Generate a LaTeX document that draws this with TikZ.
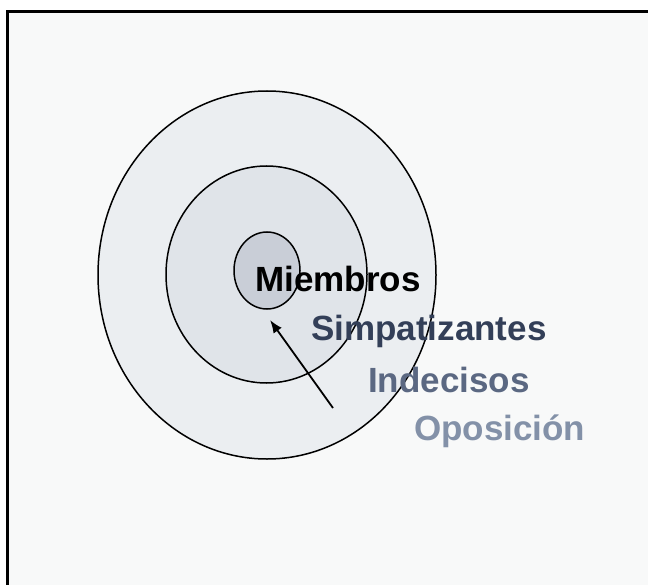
\documentclass[tikz,border=0pt]{standalone}
\usepackage{fontspec}
\setmainfont{Liberation Sans}
\usepackage{tikz}
\usetikzlibrary{arrows.meta}
\usepackage{xcolor}
\definecolor{pagebg}{HTML}{F8F9F9}
\definecolor{ringout}{HTML}{EBEEF1}
\definecolor{ringmid}{HTML}{E0E4E9}
\definecolor{ringin}{HTML}{C9CED7}
\definecolor{simpcol}{HTML}{333F58}
\definecolor{indecol}{HTML}{5B6882}
\definecolor{oposcol}{HTML}{8391A8}

\begin{document}
\begin{tikzpicture}[x=1bp, y=-1bp,
    ring/.style={draw=black, line width=1.5bp},
    word/.style={anchor=base west, inner sep=0pt, font=\fontsize{35bp}{42bp}\selectfont\bfseries}]
        \useasboundingbox (0, 0) rectangle (648, 585);
        % Draw the frame
        \fill [white] (-6, -6) rectangle (656, 592);
        \fill [pagebg] (7.5, 11.5) rectangle (656, 592);
        \draw [line width=3bp] (7.5, 592) -- (7.5, 11.5) -- (656, 11.5);
        % Rings
        \coordinate (centre) at (267, 275);
        \draw [ring, fill=ringout] (centre) ellipse [x radius=169, y radius=184];
        \draw [ring, fill=ringmid] (266.5, 274.5) ellipse [x radius=100.5, y radius=108.5];
        \draw [ring, fill=ringin] (267, 270.5) ellipse [x radius=33, y radius=38.5];
        % Labels
        \node [word, text=black] (miembros) at (255, 291) {Miembros};
        \node [word, text=simpcol] (simpatizantes) at (311, 340) {Simpatizantes};
        \node [word, text=indecol] (indecisos) at (368, 392) {Indecisos};
        \node [word, text=oposcol] (oposicion) at (414, 440) {Oposición};
        % Arrow
        \coordinate (tail) at (333, 408);
        \coordinate (tip) at (270, 320);
        \draw [-{Latex[length=13bp, width=10bp]}, line width=1.8bp] (tail) -- (tip);
    \end{tikzpicture}
\end{document}
